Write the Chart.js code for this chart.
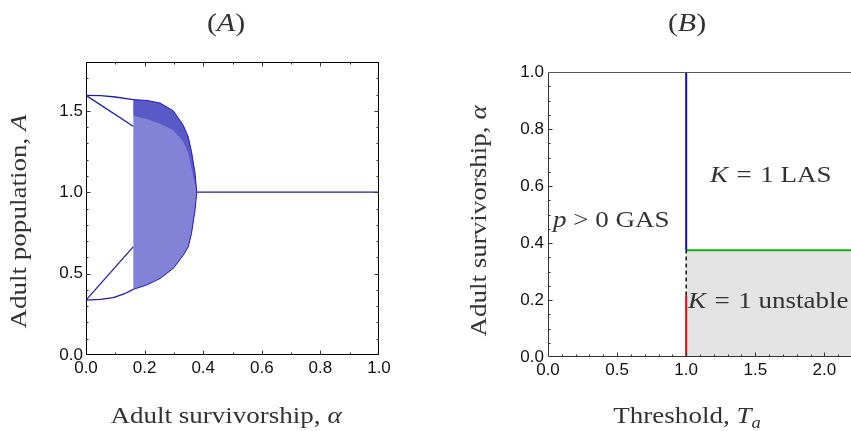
<!DOCTYPE html>
<html><head><meta charset="utf-8">
<script src="https://cdn.jsdelivr.net/npm/chart.js@4.4.0/dist/chart.umd.min.js"></script>
<style>
html,body{margin:0;padding:0;background:#fff;overflow:hidden;width:851px;height:431px;}
#wa{position:absolute;left:0;top:0;width:430px;height:431px;}
#wb{position:absolute;left:430px;top:0;width:430px;height:431px;}
canvas{display:block;}
</style></head><body>
<div id="wa"><canvas id="ca" width="430" height="431"></canvas></div>
<div id="wb"><canvas id="cb" width="430" height="431"></canvas></div>
<script>
// ---------- Panel A data ----------
const upperOuterAlpha = [0, 0.05, 0.10, 0.161];
const upperOuterA     = [1.595, 1.593, 1.585, 1.569];
const upperInnerAlpha = [0, 0.161];
const upperInnerA     = [1.595, 1.405];
const lowerOuterAlpha = [0, 0.05, 0.093, 0.13, 0.161];
const lowerOuterA     = [0.337, 0.342, 0.352, 0.375, 0.403];
const lowerInnerAlpha = [0, 0.161];
const lowerInnerA     = [0.337, 0.664];
const chaosAlpha      = [0.161, 0.207, 0.253, 0.298, 0.332, 0.349, 0.360, 0.372, 0.378];
const chaosUpperA     = [1.569, 1.564, 1.548, 1.500, 1.411, 1.339, 1.250, 1.120, 1.000];
const chaosLowerA     = [0.403, 0.430, 0.470, 0.532, 0.613, 0.664, 0.746, 0.890, 1.000];
const denseInnerA     = [1.470, 1.450, 1.420, 1.380, 1.310, 1.240, 1.150, 1.050, 1.000];
const fixedAlpha      = [0.378, 1.0];
const fixedA          = [1.0, 1.0];
const xTicksA = ['0.0','0.2','0.4','0.6','0.8','1.0'];
const yTicksA = ['0.0','0.5','1.0','1.5'];

// ---------- Panel B data ----------
const boundaryT      = [1.0, 1.0];
const blueAlpha      = [0.375, 1.0];
const dashedAlpha    = [0.216, 0.375];
const redAlpha       = [0.0, 0.216];
const greenT         = [1.0, 2.2];
const greenAlpha     = [0.375, 0.375];
const xTicksB = ['0.0','0.5','1.0','1.5','2.0'];
const yTicksB = ['0.0','0.2','0.4','0.6','0.8','1.0'];

const zip = (xs, ys) => xs.map((x, i) => ({x: x, y: ys[i]}));
const SERIF = '"Liberation Serif","Times New Roman",serif';
const SANS = '"Liberation Sans",Arial,sans-serif';
const BLUE = '#1c1cb4';
const HS = 1.15;

function rich(ctx, parts, x, y, align, size, color) {
  const fontFor = p => (p.it ? 'italic ' : '') + (p.sub ? Math.round(size * 0.7) : size) + 'px ' + SERIF;
  const wOf = p => { ctx.font = fontFor(p); return ctx.measureText(p.t).width + (p.g || 0); };
  let w = 0;
  parts.forEach(p => { w += wOf(p); });
  ctx.save();
  ctx.translate(x, y);
  ctx.scale(HS, 1);
  let cx = align === 'center' ? -w / 2 : 0;
  ctx.fillStyle = color || '#333';
  ctx.textBaseline = 'alphabetic';
  ctx.textAlign = 'left';
  parts.forEach(p => {
    ctx.font = fontFor(p);
    ctx.fillText(p.t, cx, (p.sub ? size * 0.22 : 0));
    cx += wOf(p);
  });
  ctx.restore();
}
function tickMarks(ctx, scale, vals, len, side, ca) {
  vals.forEach(v => {
    const p = Math.round(scale.getPixelForValue(v)) + 0.5;
    ctx.beginPath();
    if (side === 'bottom') { ctx.moveTo(p, ca.bottom); ctx.lineTo(p, ca.bottom - len); }
    if (side === 'top') { ctx.moveTo(p, ca.top); ctx.lineTo(p, ca.top + len); }
    if (side === 'left') { ctx.moveTo(ca.left, p); ctx.lineTo(ca.left + len, p); }
    if (side === 'right') { ctx.moveTo(ca.right, p); ctx.lineTo(ca.right - len, p); }
    ctx.stroke();
  });
}
const range = (a, b, s) => { const r = []; for (let i = 0; a + i * s <= b + 1e-9; i++) r.push(+(a + i * s).toFixed(4)); return r; };

Chart.defaults.animation = false;

const lineDs = (data, color, w, extra) => Object.assign({
  data: data, borderColor: color, borderWidth: w, pointRadius: 0, fill: false, tension: 0
}, extra || {});

// ---------- Chart A ----------
const decoA = {
  id: 'decoA',
  afterDraw(chart) {
    const {ctx, chartArea: ca, scales: {x, y}} = chart;
    ctx.save();
    ctx.strokeStyle = '#000'; ctx.lineWidth = 1;
    ctx.strokeRect(Math.round(ca.left) + 0.5, Math.round(ca.top) + 0.5, Math.round(ca.right - ca.left) - 1, Math.round(ca.bottom - ca.top) - 1);
    ctx.strokeStyle = '#333';
    tickMarks(ctx, x, range(0.1, 0.9, 0.2), 2.5, 'bottom', ca);
    tickMarks(ctx, x, range(0.2, 0.8, 0.2), 4.5, 'bottom', ca);
    tickMarks(ctx, x, range(0.1, 0.9, 0.2), 2.5, 'top', ca);
    tickMarks(ctx, x, range(0.2, 0.8, 0.2), 4.5, 'top', ca);
    const yMin = range(0.1, 1.7, 0.1).filter(v => Math.abs(v * 2 - Math.round(v * 2)) > 1e-6);
    tickMarks(ctx, y, yMin, 2.5, 'left', ca);
    tickMarks(ctx, y, [0.5, 1.0, 1.5], 4.5, 'left', ca);
    tickMarks(ctx, y, yMin, 2.5, 'right', ca);
    tickMarks(ctx, y, [0.5, 1.0, 1.5], 4.5, 'right', ca);
    rich(ctx, [{t: '('}, {t: 'A', it: 1}, {t: ')'}], 226, 31, 'center', 26, '#333');
    rich(ctx, [{t: 'Adult survivorship, '}, {t: 'α', it: 1}], 226, 423, 'center', 23.5, '#333');
    ctx.save(); ctx.translate(26, 221.5); ctx.rotate(-Math.PI / 2);
    rich(ctx, [{t: 'Adult population, '}, {t: 'A', it: 1}], 0, 0, 'center', 23.5, '#333');
    ctx.restore();
    ctx.restore();
  }
};

new Chart(document.getElementById('ca'), {
  type: 'line',
  data: {
    datasets: [
      lineDs(zip(chaosAlpha, chaosUpperA), BLUE, 1, {fill: '+1', backgroundColor: 'rgba(28,28,180,0.55)', order: 5}),
      lineDs(zip(chaosAlpha, chaosLowerA), BLUE, 1, {order: 5}),
      lineDs(zip(chaosAlpha, denseInnerA), 'rgba(0,0,0,0)', 0, {fill: 0, backgroundColor: 'rgba(28,28,180,0.40)', order: 4}),
      lineDs(zip(upperOuterAlpha, upperOuterA), BLUE, 1.3),
      lineDs(zip(upperInnerAlpha, upperInnerA), BLUE, 1.3),
      lineDs(zip(lowerOuterAlpha, lowerOuterA), BLUE, 1.3),
      lineDs(zip(lowerInnerAlpha, lowerInnerA), BLUE, 1.3),
      lineDs(zip(fixedAlpha, fixedA), BLUE, 1.3)
    ]
  },
  options: {
    responsive: false, devicePixelRatio: 1,
    layout: {padding: {top: 62, right: 51, left: 0, bottom: 0}},
    plugins: {legend: {display: false}, tooltip: {enabled: false}},
    scales: {
      x: {type: 'linear', min: 0, max: 1,
        grid: {display: false, drawTicks: false}, border: {display: false},
        ticks: {stepSize: 0.2, includeBounds: false, padding: 3, color: '#111', font: {family: SANS, size: 17},
          callback: v => xTicksA.find(t => Math.abs(+t - v) < 1e-6) || ''},
        afterFit: s => { s.height = 76; }},
      y: {type: 'linear', min: 0, max: 1.8,
        grid: {display: false, drawTicks: false}, border: {display: false},
        ticks: {stepSize: 0.5, includeBounds: false, padding: 3, color: '#111', font: {family: SANS, size: 17},
          callback: v => yTicksA.find(t => Math.abs(+t - v) < 1e-6) || ''},
        afterFit: s => { s.width = 86; }}
    }
  },
  plugins: [decoA]
});

// ---------- Chart B ----------
const decoB = {
  id: 'decoB',
  afterDraw(chart) {
    const {ctx, chartArea: ca, scales: {x, y}} = chart;
    ctx.save();
    ctx.lineWidth = 1;
    const L = Math.round(ca.left) + 0.5, B = Math.round(ca.bottom) - 0.5, T = Math.round(ca.top) + 0.5;
    ctx.strokeStyle = '#555';
    ctx.beginPath(); ctx.moveTo(L, T); ctx.lineTo(ca.right + 10, T); ctx.stroke();
    ctx.strokeStyle = '#333';
    ctx.beginPath(); ctx.moveTo(L, T); ctx.lineTo(L, B); ctx.lineTo(ca.right + 10, B); ctx.stroke();
    const yMin = range(0.05, 0.95, 0.05).filter(v => Math.abs(v * 5 - Math.round(v * 5)) > 1e-6);
    tickMarks(ctx, y, yMin, 2.5, 'left', ca);
    tickMarks(ctx, y, [0.2, 0.4, 0.6, 0.8], 4.5, 'left', ca);
    const xMin = range(0.1, 2.1, 0.1).filter(v => Math.abs(v * 2 - Math.round(v * 2)) > 1e-6);
    tickMarks(ctx, x, xMin, 2.5, 'bottom', ca);
    tickMarks(ctx, x, [0.5, 1.0, 1.5, 2.0], 4.5, 'bottom', ca);
    rich(ctx, [{t: '('}, {t: 'B', it: 1}, {t: ')'}], 257, 31, 'center', 26, '#333');
    rich(ctx, [{t: 'Threshold, '}, {t: 'T', it: 1}, {t: 'a', it: 1, sub: 1}], 257, 423, 'center', 23.5, '#333');
    ctx.save(); ctx.translate(56, 221); ctx.rotate(-Math.PI / 2);
    rich(ctx, [{t: 'Adult survivorship, '}, {t: 'α', it: 1}], 0, 0, 'center', 23.5, '#333');
    ctx.restore();
    rich(ctx, [{t: 'p', it: 1}, {t: ' > 0 GAS'}], 123, 227, 'left', 23.5, '#333');
    rich(ctx, [{t: 'K', it: 1, g: 1.5}, {t: ' = ', g: 1.5}, {t: '1 LAS'}], 280, 182, 'left', 23.5, '#333');
    rich(ctx, [{t: 'K', it: 1, g: 1.5}, {t: ' = ', g: 1.5}, {t: '1 unstable'}], 258, 308, 'left', 23.5, '#333');
    ctx.restore();
  }
};

new Chart(document.getElementById('cb'), {
  type: 'line',
  data: {
    datasets: [
      lineDs(zip(boundaryT, blueAlpha), '#0a0ad0', 2, {order: 0}),
      lineDs(zip(boundaryT, dashedAlpha), '#111', 1.5, {order: 0, borderDash: [4, 3]}),
      lineDs(zip(boundaryT, redAlpha), '#f00000', 2, {order: 0}),
      lineDs(zip(greenT, greenAlpha), '#10b010', 2, {order: 1, fill: 'origin', backgroundColor: '#e3e3e3'})
    ]
  },
  options: {
    responsive: false, devicePixelRatio: 1,
    layout: {padding: {top: 72, right: 8, left: 0, bottom: 0}},
    plugins: {legend: {display: false}, tooltip: {enabled: false}},
    scales: {
      x: {type: 'linear', min: 0, max: 2.2,
        grid: {display: false, drawTicks: false}, border: {display: false},
        ticks: {stepSize: 0.5, includeBounds: false, padding: 3, color: '#111', font: {family: SANS, size: 17},
          callback: v => xTicksB.find(t => Math.abs(+t - v) < 1e-6) || ''},
        afterFit: s => { s.height = 74; }},
      y: {type: 'linear', min: 0, max: 1,
        grid: {display: false, drawTicks: false}, border: {display: false},
        ticks: {stepSize: 0.2, includeBounds: false, padding: 4, color: '#111', font: {family: SANS, size: 17},
          callback: v => yTicksB.find(t => Math.abs(+t - v) < 1e-6) || ''},
        afterFit: s => { s.width = 118; }}
    }
  },
  plugins: [decoB]
});
</script>
</body></html>
